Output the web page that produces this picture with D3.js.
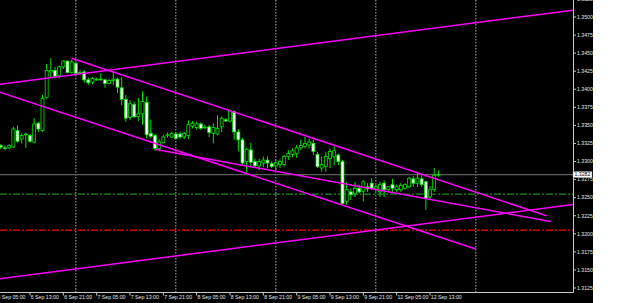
<!DOCTYPE html>
<html><head><meta charset="utf-8">
<script src="https://cdn.jsdelivr.net/npm/d3@7"></script>
<style>html,body{margin:0;padding:0;background:#fff;}svg{display:block}</style>
</head><body><svg id="c" width="625" height="303"></svg>
<script>
// hourly bars, index counted from 6 Sep 05:00 (bar 0); first visible bar is index 1
const firstBar = 1;
const opens = [
1.3322,1.3319,1.3319,1.3320,1.3343,1.3331,1.3337,1.3336,1.3327,1.3353,
1.3343,1.3389,1.3424,1.3426,1.3419,1.3431,1.3439,1.3423,1.3436,1.3423,
1.3424,1.3413,1.3410,1.3413,1.3413,1.3413,1.3408,1.3412,1.3414,1.3402,
1.3386,1.3361,1.3379,1.3362,1.3366,1.3382,1.3339,1.3336,1.3318,1.3326,
1.3336,1.3334,1.3338,1.3338,1.3334,1.3336,1.3349,1.3347,1.3352,1.3347,
1.3348,1.3339,1.3338,1.3348,1.3358,1.3356,1.3369,1.3341,1.3330,1.3300,
1.3316,1.3300,1.3294,1.3298,1.3302,1.3297,1.3294,1.3296,1.3296,1.3307,
1.3310,1.3311,1.3319,1.3321,1.3323,1.3325,1.3310,1.3291,1.3293,1.3304,
1.3307,1.3309,1.3300,1.3245,1.3258,1.3256,1.3263,1.3259,1.3265,1.3270,
1.3263,1.3258,1.3270,1.3261,1.3268,1.3261,1.3261,1.3263,1.3265,1.3276,
1.3270,1.3276,1.3272,1.3251,1.3261,1.3281];
const highs = [
1.3324,1.3322,1.3324,1.3348,1.3350,1.3339,1.3340,1.3338,1.3360,1.3355,
1.3392,1.3435,1.3443,1.3431,1.3433,1.3440,1.3440,1.3441,1.3438,1.3427,
1.3427,1.3416,1.3417,1.3416,1.3422,1.3414,1.3414,1.3424,1.3416,1.3417,
1.3392,1.3385,1.3383,1.3388,1.3397,1.3390,1.3358,1.3338,1.3331,1.3337,
1.3340,1.3341,1.3341,1.3341,1.3341,1.3357,1.3356,1.3355,1.3354,1.3351,
1.3351,1.3353,1.3364,1.3362,1.3360,1.3372,1.3371,1.3345,1.3333,1.3319,
1.3326,1.3304,1.3304,1.3307,1.3307,1.3300,1.3302,1.3303,1.3309,1.3316,
1.3318,1.3323,1.3330,1.3334,1.3332,1.3330,1.3313,1.3307,1.3313,1.3318,
1.3321,1.3311,1.3302,1.3272,1.3263,1.3272,1.3268,1.3274,1.3270,1.3277,
1.3268,1.3272,1.3274,1.3266,1.3276,1.3268,1.3270,1.3270,1.3279,1.3280,
1.3284,1.3281,1.3274,1.3266,1.3291,1.3288];
const lows = [
1.3317,1.3316,1.3317,1.3319,1.3326,1.3325,1.3319,1.3326,1.3325,1.3341,
1.3341,1.3387,1.3417,1.3415,1.3415,1.3428,1.3422,1.3422,1.3421,1.3420,
1.3409,1.3406,1.3407,1.3412,1.3412,1.3402,1.3407,1.3406,1.3395,1.3378,
1.3355,1.3357,1.3360,1.3356,1.3351,1.3332,1.3332,1.3315,1.3314,1.3325,
1.3333,1.3333,1.3330,1.3331,1.3331,1.3331,1.3346,1.3344,1.3344,1.3345,
1.3334,1.3325,1.3336,1.3341,1.3355,1.3354,1.3330,1.3314,1.3295,1.3284,
1.3292,1.3291,1.3288,1.3292,1.3291,1.3291,1.3288,1.3291,1.3293,1.3302,
1.3306,1.3305,1.3316,1.3318,1.3318,1.3309,1.3291,1.3286,1.3286,1.3291,
1.3295,1.3295,1.3240,1.3240,1.3247,1.3251,1.3256,1.3245,1.3258,1.3261,
1.3258,1.3251,1.3251,1.3258,1.3258,1.3258,1.3258,1.3261,1.3263,1.3265,
1.3265,1.3265,1.3233,1.3247,1.3258,1.3279];
const closes = [
1.3320,1.3318,1.3322,1.3345,1.3328,1.3336,1.3338,1.3328,1.3352,1.3345,
1.3387,1.3426,1.3426,1.3418,1.3431,1.3439,1.3423,1.3438,1.3422,1.3422,
1.3413,1.3409,1.3415,1.3414,1.3414,1.3408,1.3412,1.3414,1.3403,1.3386,
1.3360,1.3380,1.3362,1.3366,1.3383,1.3337,1.3335,1.3318,1.3327,1.3334,
1.3337,1.3339,1.3332,1.3334,1.3339,1.3351,1.3353,1.3352,1.3346,1.3347,
1.3340,1.3347,1.3346,1.3360,1.3356,1.3370,1.3341,1.3330,1.3298,1.3317,
1.3299,1.3294,1.3300,1.3302,1.3298,1.3293,1.3298,1.3300,1.3307,1.3311,
1.3315,1.3319,1.3322,1.3325,1.3327,1.3314,1.3293,1.3296,1.3307,1.3314,
1.3315,1.3300,1.3242,1.3261,1.3254,1.3263,1.3258,1.3272,1.3262,1.3263,
1.3265,1.3268,1.3261,1.3265,1.3263,1.3265,1.3267,1.3268,1.3277,1.3270,
1.3277,1.3268,1.3249,1.3261,1.3281,1.3282];

const tickLabels = ["6 Sep 05:00","6 Sep 13:00","6 Sep 21:00","7 Sep 05:00","7 Sep 13:00","7 Sep 21:00",
  "8 Sep 05:00","8 Sep 13:00","8 Sep 21:00","9 Sep 05:00","9 Sep 13:00","9 Sep 21:00","12 Sep 05:00","12 Sep 13:00"];
const tickBars = [0,8,16,24,32,40,48,56,64,72,80,88,96,104];
const priceTicks = [1.3125,1.3150,1.3175,1.3200,1.3225,1.3250,1.3275,1.3300,1.3325,1.3350,1.3375,1.3400,1.3425,1.3450,1.3475,1.3500,1.3525];
const separatorBars = [19,43,67,91,115];
const currentPrice = 1.3282;
const levelPrices = [1.3255, 1.3205];
const levelColors = ["#1b8f1b", "#ff0000"];
const trendFrom = [[0,1.34063],[0,1.31373],[18,1.3443],[0,1.33973],[38,1.3317]];
const trendTo   = [[140,1.35107],[140,1.32417],[132,1.3225],[115,1.3179],[133,1.3217]];

const svg = d3.select("#c");
const W = 573, H = 292;
const x = d3.scaleLinear().domain([0, 138.32]).range([-3.33, W]);
const y = d3.scaleLinear().domain([1.3125, 1.35]).range([288, 17]);

svg.append("rect").attr("x",0).attr("y",0).attr("width",593).attr("height",303).attr("fill","#000");
svg.append("defs").append("clipPath").attr("id","pc").append("rect").attr("x",0).attr("y",0).attr("width",W).attr("height",H);
const plot = svg.append("g").attr("clip-path","url(#pc)");

// period separators
plot.selectAll("line.sep").data(separatorBars).join("line")
  .attr("x1",d=>x(d)).attr("x2",d=>x(d)).attr("y1",0).attr("y2",H)
  .attr("stroke","#b4b4b4").attr("stroke-width",1).attr("stroke-dasharray","1.5,1.5");

// current price line
plot.append("line").attr("x1",0).attr("x2",W).attr("y1",y(currentPrice)).attr("y2",y(currentPrice))
  .attr("stroke","#5e5e5e").attr("stroke-width",1.2);

// horizontal levels
plot.selectAll("line.lvl").data(levelPrices).join("line")
  .attr("x1",0).attr("x2",W).attr("y1",d=>y(d)).attr("y2",d=>y(d))
  .attr("stroke",(d,i)=>levelColors[i]).attr("stroke-width",1.3).attr("stroke-dasharray","7,2,2,2");

// candles
const bars = opens.map((o,k)=>({i:k+firstBar,o,h:highs[k],l:lows[k],c:closes[k]}));
const cg = plot.append("g");
cg.selectAll("line.w").data(bars).join("line")
  .attr("x1",d=>x(d.i)).attr("x2",d=>x(d.i)).attr("y1",d=>y(d.h)).attr("y2",d=>y(d.l))
  .attr("stroke","#00e600").attr("stroke-width",1);
cg.selectAll("rect.b").data(bars).join("rect")
  .attr("x",d=>x(d.i)-1.5).attr("width",3)
  .attr("y",d=>y(Math.max(d.o,d.c)))
  .attr("height",d=>Math.max(0.3,Math.abs(y(d.o)-y(d.c))))
  .attr("fill",d=>d.c>=d.o?"#000":"#fff")
  .attr("stroke","#00e600").attr("stroke-width",0.8);

// trend lines
plot.selectAll("line.tr").data(trendFrom).join("line")
  .attr("x1",d=>x(d[0])).attr("y1",d=>y(d[1]))
  .attr("x2",(d,i)=>x(trendTo[i][0])).attr("y2",(d,i)=>y(trendTo[i][1]))
  .attr("stroke","#ff00ff").attr("stroke-width",1.5);

// axes
const ax = svg.append("g");
ax.append("line").attr("x1",W+0.5).attr("x2",W+0.5).attr("y1",0).attr("y2",H+0.5).attr("stroke","#c8c8c8");
ax.append("line").attr("x1",0).attr("x2",W+0.5).attr("y1",H+0.5).attr("y2",H+0.5).attr("stroke","#c8c8c8");
ax.selectAll("line.yt").data(priceTicks).join("line")
  .attr("x1",W).attr("x2",W+3).attr("y1",d=>y(d)).attr("y2",d=>y(d)).attr("stroke","#c8c8c8");
ax.selectAll("text.yl").data(priceTicks).join("text")
  .attr("x",W+4).attr("y",d=>y(d)).attr("dy","0.35em")
  .attr("font-family","Liberation Sans, Arial, sans-serif").attr("font-size",5.2).attr("fill","#e6e6e6")
  .text(d=>d.toFixed(4));
ax.selectAll("line.xt").data(tickBars).join("line")
  .attr("x1",d=>x(d)).attr("x2",d=>x(d)).attr("y1",H).attr("y2",H+3.5).attr("stroke","#c8c8c8");
ax.selectAll("text.xl").data(tickBars).join("text")
  .attr("x",d=>x(d)+0.8).attr("y",298.8)
  .attr("font-family","Liberation Sans, Arial, sans-serif").attr("font-size",5.2).attr("fill","#e6e6e6")
  .text((d,i)=>tickLabels[i]);

// current price marker
const cp = svg.append("g");
cp.append("rect").attr("x",W).attr("y",y(currentPrice)-3).attr("width",19).attr("height",6)
  .attr("fill","#fff").attr("stroke","#888").attr("stroke-width",0.5);
cp.append("text").attr("x",W+1.5).attr("y",y(currentPrice)).attr("dy","0.35em")
  .attr("font-family","Liberation Sans, Arial, sans-serif").attr("font-size",5.2).attr("fill","#000")
  .text(currentPrice.toFixed(4));
</script></body></html>
